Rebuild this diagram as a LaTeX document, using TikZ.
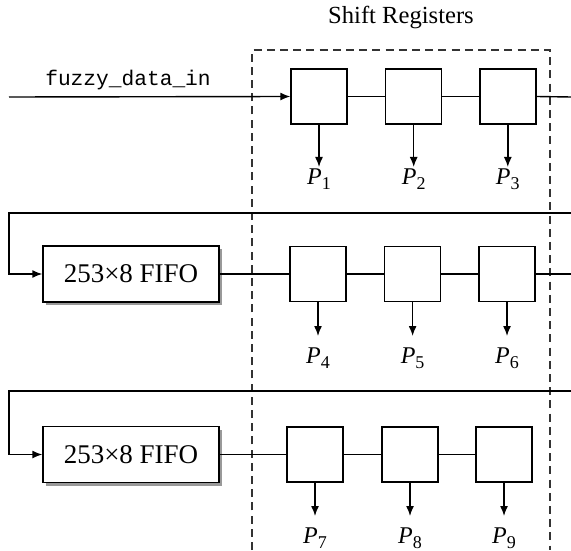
\documentclass[tikz,border=0pt]{standalone}
\usepackage{fontspec}
\setmainfont{Liberation Serif}
\setmonofont{Liberation Mono}
\usetikzlibrary{arrows.meta, shadows}
\newcommand{\preg}[1]{\textit{P}\raisebox{-0.5ex}{\fontsize{9}{10}\selectfont #1}}

\begin{document}
\begin{tikzpicture}[
        x = 0.5pt, y = -0.5pt,
        line width = 0.7pt,
        >= {Latex[length = 5pt, width = 4pt]},
        register/.style = {rectangle, draw, minimum width = 28pt, minimum height = 27.5pt},
        fifo/.style = {rectangle, draw, fill = white, minimum width = 88pt, minimum height = 28pt,
          font = \fontsize{13.5}{15}\selectfont,
          drop shadow = {shadow xshift = 1.5pt, shadow yshift = -1.5pt, fill = black!40, opacity = 1}},
        outlabel/.style = {inner sep = 0pt, font = \fontsize{12}{14}\selectfont},
        regbound/.style = {draw = black!80, dash pattern = on 4pt off 2.6pt}
      ]
      \useasboundingbox (0,0) rectangle (571,550);

      % title and dashed border
      \node[font = \fontsize{12.3}{14}\selectfont] (title) at (401,18) {Shift Registers};
      \draw[regbound] (252,550) -- (252,50) -- (550,50) -- (550,550);

      % row 1
      \foreach \i/\x/\j in {1/319/1, 2/413.7/2, 3/507.8/3} {
        \node[register] (a\i) at (\x,96.5) {};
        \node[outlabel] (p\j) at (\x,179) {\preg{\j}};
        \draw[->] (a\i.south) -- (a\i.south |- 0,167);
      }
      \node[font = \fontsize{10.6}{12}\selectfont\ttfamily] (din) at (128,80) {fuzzy\_data\_in};
      \coordinate (in) at (9,97);
      \draw[->] (in) -- (a1.west);
      \draw (a1) -- (a2) -- (a3);
      \draw (a3.east) -- (571,97);

      % row 2
      \node[fifo] (f1) at (131,274) {253×8 FIFO};
      \foreach \i/\x/\j in {1/318/4, 2/412.6/5, 3/507/6} {
        \node[register] (b\i) at (\x,274) {};
        \node[outlabel] (p\j) at (\x,358) {\preg{\j}};
        \draw[->] (b\i.south) -- (b\i.south |- 0,336);
      }
      \coordinate (cut1) at (571,213);
      \draw[->] (cut1) -| (9,274) -- (f1.west);
      \draw (f1) -- (b1) -- (b2) -- (b3);
      \draw (b3.east) -- (571,274);

      % row 3
      \node[fifo] (f2) at (131,454.5) {253×8 FIFO};
      \foreach \i/\x/\j in {1/315/7, 2/410/8, 3/504/9} {
        \node[register] (c\i) at (\x,454.5) {};
        \node[outlabel] (p\j) at (\x,538) {\preg{\j}};
        \draw[->] (c\i.south) -- (c\i.south |- 0,516);
      }
      \coordinate (cut2) at (571,391);
      \draw[->] (cut2) -| (9,454.5) -- (f2.west);
      \draw (f2) -- (c1) -- (c2) -- (c3);
    \end{tikzpicture}
\end{document}
